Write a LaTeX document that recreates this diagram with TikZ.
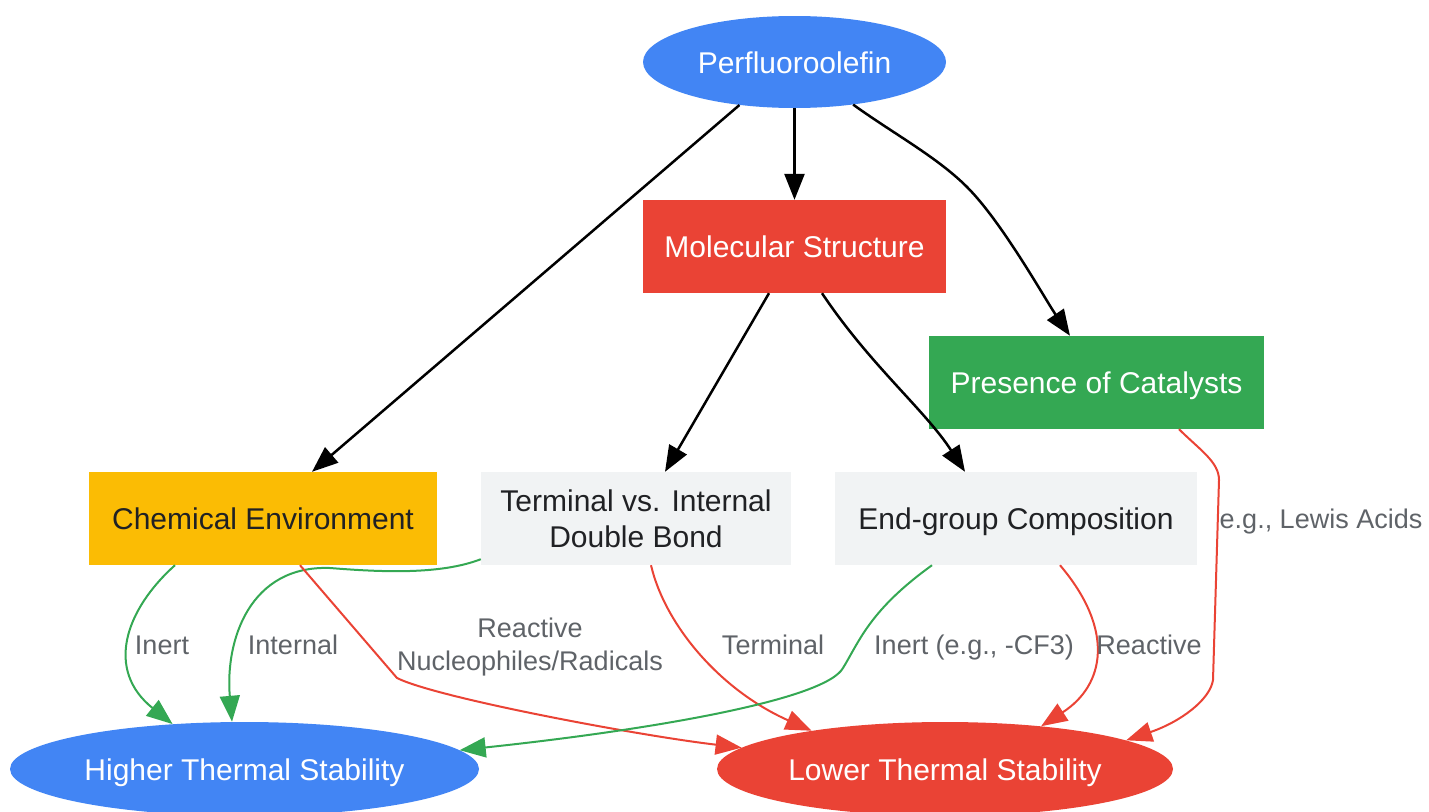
\documentclass[tikz,border=0pt]{standalone}
\usepackage{fontspec}
\setmainfont{Liberation Sans}
\usetikzlibrary{arrows.meta,shapes.geometric,calc}
\definecolor{gblue}{HTML}{4285F4}
\definecolor{gred}{HTML}{EA4335}
\definecolor{ggreen}{HTML}{34A853}
\definecolor{gyellow}{HTML}{FBBC04}
\definecolor{ggray}{HTML}{F1F3F4}
\definecolor{lblgray}{HTML}{5F6368}
\definecolor{darktext}{HTML}{202124}
\begin{document}
\begin{tikzpicture}[x=1pt,y=-1pt,
  nodefont/.style={font=\fontsize{30}{36}\selectfont},
  oneline/.style={text height=22pt, text depth=0pt},
  ell/.style={ellipse, nodefont, oneline, inner sep=0pt, text=white, minimum height=94pt},
  box/.style={rectangle, nodefont, inner sep=0pt, minimum height=93pt, align=center},
  lbl/.style={font=\fontsize{27}{33}\selectfont, text=lblgray, align=center, inner sep=0pt},
  conn/.style={line width=2pt, -{Triangle[length=26pt,width=20pt]}},
  bconn/.style={conn, line width=2.5pt, black},
]
\useasboundingbox (0,0) rectangle (1429,811);

% nodes
\node[ell, fill=gblue, minimum width=303pt, minimum height=92pt] (P) at (794.5,62) {Perfluoroolefin};
\node[box, oneline, fill=gred, text=white, minimum width=303pt] (M) at (794.5,246.5) {Molecular Structure};
\node[box, oneline, fill=ggreen, text=white, minimum width=335pt] (C) at (1096.5,382.5) {Presence of Catalysts};
\node[box, oneline, fill=gyellow, text=darktext, minimum width=348pt] (CE) at (263,518.5) {Chemical Environment};
\node[box, fill=ggray, text=darktext, minimum width=310pt] (T) at (636,518.5) {Terminal vs. Internal\\Double Bond};
\node[box, oneline, fill=ggray, text=darktext, minimum width=362pt] (E) at (1016,518.5) {End-group Composition};
\node[ell, fill=gblue, minimum width=469pt] (H) at (244.5,769) {Higher Thermal Stability};
\node[ell, fill=gred, minimum width=456pt] (L) at (945,769) {Lower Thermal Stability};

% black connectors
\draw[bconn] (P.-142) -- ([xshift=49pt]CE.north);
\draw[bconn] (P.south) -- (M.north);
\draw[bconn] (P.-36) .. controls (894,134) and (937,157) .. (967,187)
  .. controls (1002,222) and (1045,299) .. ([xshift=-26.5pt]C.north);
\draw[bconn] ([xshift=-25.5pt]M.south) -- ([xshift=29pt]T.north);
\draw[bconn] ([xshift=27.5pt]M.south) .. controls (870,365) and (925,410) .. ([xshift=-51pt]E.north);

% coloured connectors
\draw[conn,gred] ([xshift=82.5pt]C.south) .. controls (1200,450) and (1219,462) .. (1219,480)
  -- (1213,680) .. controls (1210,700) and (1180,722) .. (L.9);
\draw[conn,ggreen] ([xshift=-88pt]CE.south) .. controls (125,610) and (105,670) .. (H.148);
\draw[conn,ggreen] ([yshift=6pt]T.south west) .. controls (440,575) and (380,572) .. (330,568)
  .. controls (250,565) and (225,640) .. ([xshift=-12.5pt]H.north);
\draw[conn,gred] ([xshift=37pt]CE.south) -- (397,678) .. controls (437,698) and (641,736) .. (L.174);
\draw[conn,gred] ([xshift=15pt]T.south) .. controls (665,625) and (720,690) .. (L.164);
\draw[conn,ggreen] ([xshift=-84pt]E.south) .. controls (870,610) and (860,640) .. (843,668)
  .. controls (825,700) and (650,730) .. (H.5);
\draw[conn,gred] ([xshift=44pt]E.south) .. controls (1115,630) and (1105,685) .. (L.24);

% labels
\node[lbl, anchor=base] (l1) at (1321,528.5) {e.g., Lewis Acids};
\node[lbl, anchor=base] (l2) at (162,654.5) {Inert};
\node[lbl, anchor=base] (l3) at (293,654.5) {Internal};
\node[lbl] (l4) at (530,647) {Reactive\\Nucleophiles/Radicals};
\node[lbl, anchor=base] (l5) at (773,654.5) {Terminal};
\node[lbl, anchor=base] (l6) at (974,654.5) {Inert (e.g., -CF3)};
\node[lbl, anchor=base] (l7) at (1149,654.5) {Reactive};
\end{tikzpicture}
\end{document}
